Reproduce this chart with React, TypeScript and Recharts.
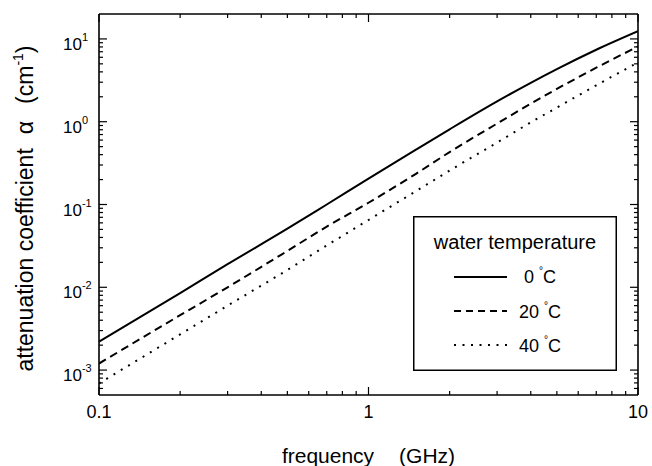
import React from "react"
import {
    ComposedChart,
    Line,
    XAxis,
    YAxis,
    Legend,
    Label,
} from "recharts"

// frequency (GHz) and attenuation coefficient (1/cm)
const FREQ = [0.1, 0.2, 0.3, 0.5, 0.7, 1, 1.5, 2, 3, 4, 5, 7, 10]
const ALPHA_0C = [2.2e-3, 8.5e-3, 0.019, 0.051, 0.1, 0.205, 0.46, 0.81, 1.76, 2.95, 4.32, 7.4, 12.4]
const ALPHA_20C = [1.2e-3, 4.6e-3, 0.01, 0.0275, 0.054, 0.105, 0.235, 0.43, 0.95, 1.65, 2.49, 4.49, 8.1]
const ALPHA_40C = [6.9e-4, 2.7e-3, 6.0e-3, 0.0162, 0.032, 0.065, 0.145, 0.257, 0.56, 0.98, 1.48, 2.75, 5.2]

const SERIES_KEYS = ["c0", "c20", "c40"]
const SERIES_NAMES = ["0", "20", "40"]
const SERIES_DASH = [undefined, "8 5", "2 6.5"]

const X_MAJOR = [0.1, 1, 10]
const X_MAJOR_LABELS = ["0.1", "1", "10"]
const Y_MAJOR = [1e-3, 1e-2, 1e-1, 1, 10]
const Y_MAJOR_EXP = ["-3", "-2", "-1", "0", "1"]

const FONT = "'Liberation Sans', Arial, Helvetica, sans-serif"

const data = FREQ.map((f, i) => ({
    f,
    c0: ALPHA_0C[i],
    c20: ALPHA_20C[i],
    c40: ALPHA_40C[i],
}))

// minor ticks 2..9 in each decade
function logTicks(lo: number, hi: number) {
    const out: number[] = []
    for (let e = -4; e <= 1; e++) {
        for (let m = 1; m <= 9; m++) {
            const v = Number((m * Math.pow(10, e)).toPrecision(6))
            if (v >= lo && v <= hi) out.push(v)
        }
    }
    return out
}

const X_TICKS = logTicks(0.1, 10)
const Y_TICKS = logTicks(6e-4, 10)

const majorIndex = (list: number[], v: number) =>
    list.findIndex((m) => Math.abs(m - v) / m < 1e-6)

const MAJOR = 8
const MINOR = 4

const BottomTick = (props: any) => {
    const { x, y, payload } = props
    const idx = majorIndex(X_MAJOR, payload.value)
    const len = idx >= 0 ? MAJOR : MINOR
    return (
        <g>
            <line x1={x} x2={x} y1={y} y2={y - len} stroke="#000" strokeWidth={1.2} />
            {idx >= 0 && (
                <text x={x} y={y + 23} textAnchor="middle" fontSize={18} fill="#000" fontFamily={FONT}>
                    {X_MAJOR_LABELS[idx]}
                </text>
            )}
        </g>
    )
}

const TopTick = (props: any) => {
    const { x, y, payload } = props
    const len = majorIndex(X_MAJOR, payload.value) >= 0 ? MAJOR : MINOR
    return <line x1={x} x2={x} y1={y} y2={y + len} stroke="#000" strokeWidth={1.2} />
}

const LeftTick = (props: any) => {
    const { x, y, payload } = props
    const idx = majorIndex(Y_MAJOR, payload.value)
    const len = idx >= 0 ? MAJOR : MINOR
    return (
        <g>
            <line x1={x} x2={x + len} y1={y} y2={y} stroke="#000" strokeWidth={1.2} />
            {idx >= 0 && (
                <text x={x - 36} y={y + 11} fontSize={17} fill="#000" fontFamily={FONT}>
                    10
                    <tspan dy={-9} fontSize={11}>{Y_MAJOR_EXP[idx]}</tspan>
                </text>
            )}
        </g>
    )
}

const RightTick = (props: any) => {
    const { x, y, payload } = props
    const len = majorIndex(Y_MAJOR, payload.value) >= 0 ? MAJOR : MINOR
    return <line x1={x} x2={x - len} y1={y} y2={y} stroke="#000" strokeWidth={1.2} />
}

const XTitle = (props: any) => {
    const vb = props.viewBox
    return (
        <text x={vb.x + vb.width / 2} y={vb.y + vb.height - 3} textAnchor="middle" fontSize={21} fill="#000" fontFamily={FONT}>
            frequency
            <tspan dx={25}>(GHz)</tspan>
        </text>
    )
}

const YTitle = (props: any) => {
    const vb = props.viewBox
    const cx = 33
    const cy = vb.y + vb.height / 2 + 4
    return (
        <text
            x={cx}
            y={cy}
            transform={`rotate(-90, ${cx}, ${cy})`}
            textAnchor="middle"
            fontSize={23}
            fill="#000"
            fontFamily={FONT}
        >
            attenuation coefficient
            <tspan dx={14}>α</tspan>
            <tspan dx={17}>(cm</tspan>
            <tspan dy={-10} fontSize={14}>-1</tspan>
            <tspan dy={10}>)</tspan>
        </text>
    )
}

const renderLegend = () => (
    <svg width={204} height={155} style={{ display: "block" }}>
        <rect x={0.75} y={0.75} width={202.5} height={153.5} fill="#fff" stroke="#000" strokeWidth={1.5} />
        <text x={102} y={33} textAnchor="middle" fontSize={20} fill="#000" fontFamily={FONT}>
            water temperature
        </text>
        {SERIES_NAMES.map((n, i) => (
            <g key={n}>
                <line
                    x1={41}
                    x2={94}
                    y1={61 + i * 34}
                    y2={61 + i * 34}
                    stroke="#000"
                    strokeWidth={2}
                    strokeDasharray={i === 1 ? "7 5" : SERIES_DASH[i]}
                />
                <text x={127} y={67 + i * 34.5} textAnchor="middle" fontSize={18} fill="#000" fontFamily={FONT}>
                    {n + " "}
                    <tspan dy={-9} fontSize={10}>°</tspan>
                    <tspan dy={9}>C</tspan>
                </text>
            </g>
        ))}
    </svg>
)

export default function App() {
    return (
        <div style={{ position: "absolute", left: 0, top: 0, background: "#fff" }}>
            <ComposedChart
                width={652}
                height={466}
                data={data}
                margin={{ top: 0, right: 0, bottom: 0, left: 0 }}
                style={{ fontFamily: FONT }}
            >
                <XAxis
                    xAxisId="b"
                    dataKey="f"
                    type="number"
                    scale="log"
                    domain={[0.1, 10]}
                    allowDataOverflow
                    ticks={X_TICKS}
                    interval={0}
                    tick={<BottomTick />}
                    tickLine={false}
                    tickSize={0}
                    tickMargin={0}
                    height={71}
                    axisLine={{ stroke: "#000", strokeWidth: 1.6 }}
                >
                    <Label content={<XTitle />} />
                </XAxis>
                <XAxis
                    xAxisId="t"
                    orientation="top"
                    dataKey="f"
                    type="number"
                    scale="log"
                    domain={[0.1, 10]}
                    allowDataOverflow
                    ticks={X_TICKS}
                    interval={0}
                    tick={<TopTick />}
                    tickLine={false}
                    tickSize={0}
                    tickMargin={0}
                    height={14}
                    axisLine={{ stroke: "#000", strokeWidth: 1.6 }}
                />
                <YAxis
                    yAxisId="l"
                    type="number"
                    scale="log"
                    domain={[5e-4, 20]}
                    allowDataOverflow
                    ticks={Y_TICKS}
                    interval={0}
                    tick={<LeftTick />}
                    tickLine={false}
                    tickSize={0}
                    tickMargin={0}
                    width={99}
                    axisLine={{ stroke: "#000", strokeWidth: 1.6 }}
                >
                    <Label content={<YTitle />} />
                </YAxis>
                <YAxis
                    yAxisId="r"
                    orientation="right"
                    type="number"
                    scale="log"
                    domain={[5e-4, 20]}
                    allowDataOverflow
                    ticks={Y_TICKS}
                    interval={0}
                    tick={<RightTick />}
                    tickLine={false}
                    tickSize={0}
                    tickMargin={0}
                    width={14}
                    axisLine={{ stroke: "#000", strokeWidth: 1.6 }}
                />
                <Legend
                    layout="horizontal"
                    verticalAlign="middle"
                    align="center"
                    content={renderLegend}
                    wrapperStyle={{ position: "absolute", left: 413, top: 216, width: 204, height: 155 }}
                />
                {SERIES_KEYS.map((k, i) => (
                    <Line
                        key={k}
                        xAxisId="b"
                        yAxisId="l"
                        dataKey={k}
                        name={SERIES_NAMES[i]}
                        type="monotone"
                        stroke="#000"
                        strokeWidth={2}
                        strokeDasharray={SERIES_DASH[i]}
                        dot={false}
                        isAnimationActive={false}
                    />
                ))}
            </ComposedChart>
        </div>
    )
}
